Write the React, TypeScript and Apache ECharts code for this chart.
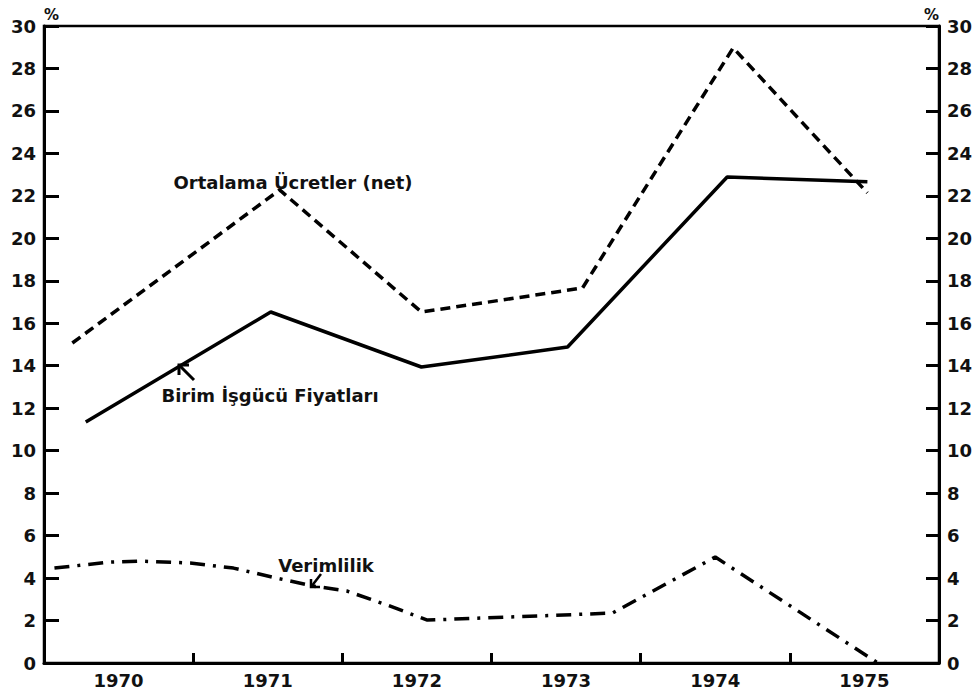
import React, { useEffect, useRef } from "react";
import * as echarts from "echarts";

const years = ["1970", "1971", "1972", "1973", "1974", "1975"];

// Ortalama Ücretler (net) – dashed
const ortalamaX = [1969.69, 1971.08, 1972.03, 1973.11, 1974.12, 1975.02];
const ortalamaY = [15.07, 22.28, 16.53, 17.66, 28.97, 22.14];

// Birim İşgücü Fiyatları – solid
const birimX = [1969.78, 1971.02, 1972.03, 1973.01, 1974.08, 1975.02];
const birimY = [11.35, 16.53, 13.94, 14.88, 22.89, 22.66];

// Verimlilik – dash-dot
const verimX = [1969.57, 1969.94, 1970.14, 1970.48, 1970.77, 1971.06, 1971.3, 1971.53, 1971.8, 1972.07, 1973.31, 1974.0, 1975.09];
const verimY = [4.47, 4.75, 4.8, 4.71, 4.47, 4.0, 3.63, 3.39, 2.73, 2.02, 2.35, 4.99, 0];

const yMin = 0;
const yMax = 30;
const yStep = 2;

const FONT = "DejaVu Sans";

const pairs = (xs: number[], ys: number[]) => xs.map((x, i) => [x, ys[i]]);

export default function App() {
  const ref = useRef<HTMLDivElement>(null);

  useEffect(() => {
    if (!ref.current) return;
    const chart = echarts.init(ref.current, undefined, { renderer: "svg" });

    const labelStyle = {
      color: "#111",
      fontFamily: FONT,
      fontWeight: "bold" as const,
      fontSize: 18,
    };

    const yAxisBase = (pos: "left" | "right", tickLen: number) => ({
      type: "value" as const,
      position: pos,
      min: yMin,
      max: yMax,
      interval: yStep,
      name: "%",
      nameLocation: "end" as const,
      nameGap: 4,
      nameTextStyle: {
        color: "#111",
        fontFamily: FONT,
        fontWeight: "bold" as const,
        fontSize: 15,
        align: pos === "left" ? ("left" as const) : ("right" as const),
        verticalAlign: "bottom" as const,
      },
      axisLine: { show: true, lineStyle: { color: "#000", width: 3 } },
      axisTick: { show: true, inside: true, length: tickLen, lineStyle: { color: "#000", width: 3 } },
      splitLine: { show: false },
      axisLabel: { ...labelStyle, margin: 8 },
    });

    const annot = (text: string, x: number, y: number) => ({
      type: "text",
      x,
      y,
      style: {
        text,
        fill: "#111",
        font: `bold 18px "${FONT}"`,
        align: "center",
        verticalAlign: "middle",
      },
    });

    const option: any = {
      animation: false,
      backgroundColor: "#fff",
      grid: {
        left: 44,
        right: 39,
        top: 26,
        bottom: 28,
        show: true,
        borderColor: "#000",
        borderWidth: 2.5,
        backgroundColor: "transparent",
      },
      xAxis: [
        {
          type: "category",
          data: years,
          position: "bottom",
          boundaryGap: true,
          axisLine: { show: true, lineStyle: { color: "#000", width: 3 } },
          axisTick: { show: true, inside: true, length: 10, alignWithLabel: false, lineStyle: { color: "#000", width: 3 } },
          axisLabel: { ...labelStyle, margin: 8 },
          splitLine: { show: false },
        },
        {
          type: "value",
          min: 1969.5,
          max: 1975.5,
          show: false,
          splitLine: { show: false },
        },
      ],
      yAxis: [yAxisBase("left", 15), yAxisBase("right", 13)],
      series: [
        {
          name: "Ortalama Ücretler (net)",
          type: "line",
          xAxisIndex: 1,
          yAxisIndex: 0,
          data: pairs(ortalamaX, ortalamaY),
          showSymbol: false,
          symbol: "none",
          lineStyle: { color: "#000", width: 3.5, type: [10, 6] },
        },
        {
          name: "Birim İşgücü Fiyatları",
          type: "line",
          xAxisIndex: 1,
          yAxisIndex: 0,
          data: pairs(birimX, birimY),
          showSymbol: false,
          symbol: "none",
          lineStyle: { color: "#000", width: 3.5, type: "solid" },
        },
        {
          name: "Verimlilik",
          type: "line",
          xAxisIndex: 1,
          yAxisIndex: 0,
          data: pairs(verimX, verimY),
          showSymbol: false,
          symbol: "none",
          lineStyle: { color: "#000", width: 3.5, type: [15, 8, 3, 8] },
        },
      ],
      graphic: [
        annot("Ortalama Ücretler (net)", 293, 182),
        annot("Birim İşgücü Fiyatları", 270, 395),
        annot("Verimlilik", 326, 565),
        {
          type: "line",
          shape: { x1: 179, y1: 365, x2: 194, y2: 380 },
          style: { stroke: "#000", lineWidth: 3 },
        },
        {
          type: "polyline",
          shape: { points: [[179, 375], [179, 365], [189, 365]] },
          style: { stroke: "#000", lineWidth: 3, fill: "none" },
        },
        {
          type: "line",
          shape: { x1: 311, y1: 587, x2: 321, y2: 574 },
          style: { stroke: "#000", lineWidth: 2.5 },
        },
        {
          type: "polyline",
          shape: { points: [[311, 579], [311, 587], [320, 587]] },
          style: { stroke: "#000", lineWidth: 2.5, fill: "none" },
        },
      ],
    };

    chart.setOption(option);
    return () => chart.dispose();
  }, []);

  return (
    <div
      ref={ref}
      style={{ position: "absolute", left: 0, top: 0, width: 978, height: 691, background: "#fff" }}
    />
  );
}
